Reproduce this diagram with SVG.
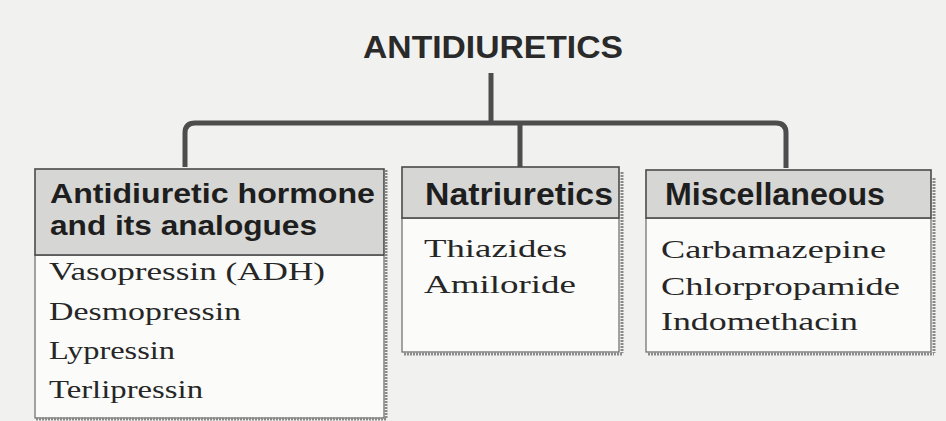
<svg xmlns="http://www.w3.org/2000/svg" width="946" height="421" viewBox="0 0 946 421">
<style>
.bg{fill:#f1f1ef}
.hdr{fill:#d6d6d4;stroke:#4a4a4a;stroke-width:1.6}
.body{fill:#fbfbfa;stroke:#6a6a6a;stroke-width:1.2}
.shadow{fill:none;stroke:#8a8a8a;stroke-width:3;stroke-dasharray:2 1}
.conn{fill:none;stroke:#4d4d4d;stroke-width:5;stroke-linejoin:round;stroke-linecap:butt}
.title{font-family:"Liberation Sans",Arial,sans-serif;font-weight:bold;font-size:32px;fill:#2a2a2a}
.h{font-family:"Liberation Sans",Arial,sans-serif;font-weight:bold;font-size:31px;fill:#1e1e1e}
.h2{font-family:"Liberation Sans",Arial,sans-serif;font-weight:bold;font-size:28px;fill:#1e1e1e}
.t{font-family:"Liberation Serif","Times New Roman",serif;font-size:26px;fill:#262626}
</style>
<rect class="bg" x="0" y="0" width="946" height="421"/>
<g id="title">
<text class="title" x="363" y="58" textLength="260" lengthAdjust="spacingAndGlyphs">ANTIDIURETICS</text>
</g>
<g id="connectors">
<path class="conn" d="M491 73 V123"/>
<path class="conn" d="M185 167 V133 Q185 123 195 123 H776 Q786 123 786 133 V168"/>
<path class="conn" d="M520 123 V167"/>
</g>
<g id="node-adh">
<rect class="body" x="35" y="255" width="349" height="163"/>
<rect class="hdr" x="35" y="169" width="349" height="86"/>
<path class="shadow" d="M386 170 V418 M36 419 H386"/>
<text class="h2" x="50" y="203" textLength="325" lengthAdjust="spacingAndGlyphs">Antidiuretic hormone</text>
<text class="h2" x="50" y="235" textLength="267" lengthAdjust="spacingAndGlyphs">and its analogues</text>
<text class="t" x="49" y="280" textLength="276" lengthAdjust="spacingAndGlyphs">Vasopressin (ADH)</text>
<text class="t" x="49" y="320" textLength="192" lengthAdjust="spacingAndGlyphs">Desmopressin</text>
<text class="t" x="49" y="359" textLength="126" lengthAdjust="spacingAndGlyphs">Lypressin</text>
<text class="t" x="49" y="398" textLength="154" lengthAdjust="spacingAndGlyphs">Terlipressin</text>
</g>
<g id="node-natriuretics">
<rect class="body" x="402" y="218" width="217" height="134"/>
<rect class="hdr" x="402" y="167" width="217" height="51"/>
<path class="shadow" d="M622 172 V353 M404 354 H622"/>
<text class="h" x="425" y="205" textLength="188" lengthAdjust="spacingAndGlyphs">Natriuretics</text>
<text class="t" x="424" y="257" textLength="143" lengthAdjust="spacingAndGlyphs">Thiazides</text>
<text class="t" x="424" y="293" textLength="152" lengthAdjust="spacingAndGlyphs">Amiloride</text>
</g>
<g id="node-misc">
<rect class="body" x="646" y="218" width="285" height="134"/>
<rect class="hdr" x="646" y="170" width="285" height="48"/>
<path class="shadow" d="M934 178 V353 M648 354 H934"/>
<text class="h" x="665" y="205" textLength="220" lengthAdjust="spacingAndGlyphs">Miscellaneous</text>
<text class="t" x="661" y="258" textLength="225" lengthAdjust="spacingAndGlyphs">Carbamazepine</text>
<text class="t" x="661" y="295" textLength="239" lengthAdjust="spacingAndGlyphs">Chlorpropamide</text>
<text class="t" x="661" y="330" textLength="197" lengthAdjust="spacingAndGlyphs">Indomethacin</text>
</g>
</svg>
